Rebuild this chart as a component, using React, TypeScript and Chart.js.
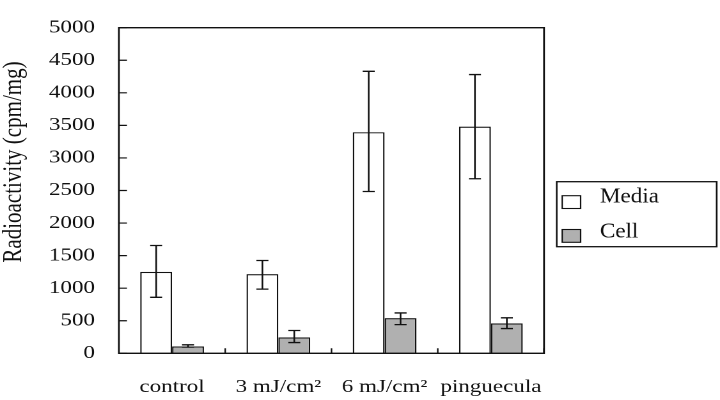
import React, { useEffect, useRef } from 'react';
import { Chart, registerables } from 'chart.js';

Chart.register(...registerables);

const categories = ['control', '3 mJ/cm²', '6 mJ/cm²', 'pinguecula'];
const seriesNames = ['Media', 'Cell'];
const mediaValues = [1250, 1215, 3395, 3480];
const mediaLow = [860, 985, 2485, 2680];
const mediaHigh = [1655, 1425, 4330, 4280];
const cellValues = [105, 245, 540, 460];
const cellLow = [95, 165, 440, 380];
const cellHigh = [130, 350, 620, 545];
const yMin = 0;
const yMax = 5000;
const yStep = 500;
const yTitle = 'Radioactivity (cpm/mg)';

const FONT = '"Liberation Serif", "Times New Roman", serif';
const INK = '#111';
const CELL_FILL = '#b0b0b0';
const CANVAS_W = 563;
const CANVAS_H = 400;
const STRETCH = 720 / CANVAS_W;

const decorPlugin = {
  id: 'decor',
  afterDatasetsDraw(chart: any) {
    const { ctx, chartArea: a, scales } = chart;
    const xs = scales.x;
    const ys = scales.y;
    ctx.save();
    ctx.strokeStyle = INK;
    ctx.lineWidth = 1.3;
    ctx.lineCap = 'butt';

    const drawErr = (meta: any, lows: number[], highs: number[]) => {
      meta.data.forEach((bar: any, i: number) => {
        const cx = bar.x;
        const yl = ys.getPixelForValue(lows[i]);
        const yh = ys.getPixelForValue(highs[i]);
        const hw = 4.7;
        ctx.beginPath();
        ctx.moveTo(cx, yl);
        ctx.lineTo(cx, yh);
        ctx.moveTo(cx - hw, yl);
        ctx.lineTo(cx + hw, yl);
        ctx.moveTo(cx - hw, yh);
        ctx.lineTo(cx + hw, yh);
        ctx.stroke();
      });
    };
    drawErr(chart.getDatasetMeta(0), mediaLow, mediaHigh);
    drawErr(chart.getDatasetMeta(1), cellLow, cellHigh);

    // frame
    ctx.lineWidth = 1.4;
    ctx.strokeRect(a.left, a.top, a.right - a.left, a.bottom - a.top);

    // inward y ticks
    ctx.lineWidth = 1.2;
    ctx.beginPath();
    ys.ticks.forEach((t: any) => {
      const py = ys.getPixelForValue(t.value);
      ctx.moveTo(a.left, py);
      ctx.lineTo(a.left + 6.3, py);
    });
    // upward x ticks at category boundaries
    for (let i = 0; i < categories.length; i++) {
      const px = xs.getPixelForValue(i + 0.5);
      ctx.moveTo(px, a.bottom);
      ctx.lineTo(px, a.bottom - 5);
    }
    ctx.stroke();

    // y title
    ctx.save();
    ctx.fillStyle = INK;
    ctx.translate(11, 162);
    ctx.rotate(-Math.PI / 2);
    ctx.textAlign = 'center';
    ctx.textBaseline = 'middle';
    ctx.font = `21px ${FONT}`;
    ctx.fillText(yTitle, 0, 0);
    ctx.restore();

    // legend
    const lx = 435.3;
    const ly = 181.7;
    const lw = 125.1;
    const lh = 65;
    ctx.fillStyle = '#fff';
    ctx.fillRect(lx, ly, lw, lh);
    ctx.lineWidth = 1.3;
    ctx.strokeRect(lx, ly, lw, lh);
    const fills = ['#ffffff', CELL_FILL];
    const swY = [195.7, 229.5];
    const txY = [202.3, 237.3];
    ctx.font = `21px ${FONT}`;
    ctx.textAlign = 'left';
    ctx.textBaseline = 'alphabetic';
    seriesNames.forEach((name, i) => {
      ctx.fillStyle = fills[i];
      ctx.fillRect(439.6, swY[i], 14.4, 12.8);
      ctx.lineWidth = 1.1;
      ctx.strokeRect(439.6, swY[i], 14.4, 12.8);
      ctx.fillStyle = INK;
      ctx.save();
      ctx.translate(469.1, txY[i]);
      ctx.scale(0.86, 1);
      ctx.fillText(name, 0, 0);
      ctx.restore();
    });
    ctx.restore();
  },
};

export default function App() {
  const ref = useRef<HTMLCanvasElement | null>(null);
  useEffect(() => {
    const canvas = ref.current;
    if (!canvas) return;
    const chart = new Chart(canvas, {
      type: 'bar',
      data: {
        labels: categories,
        datasets: [
          {
            label: seriesNames[0],
            data: mediaValues,
            backgroundColor: '#ffffff',
            borderColor: INK,
            borderWidth: 1.2,
            categoryPercentage: 0.6,
            barPercentage: 1.0,
          },
          {
            label: seriesNames[1],
            data: cellValues,
            backgroundColor: CELL_FILL,
            borderColor: INK,
            borderWidth: 1.2,
            categoryPercentage: 0.6,
            barPercentage: 1.0,
          },
        ],
      },
      options: {
        responsive: false,
        animation: false,
        devicePixelRatio: 2,
        layout: { padding: { top: 11, right: CANVAS_W - 425.4, left: 0, bottom: 0 } },
        plugins: {
          legend: { display: false },
          tooltip: { enabled: false },
          title: { display: false },
        },
        scales: {
          x: {
            offset: true,
            grid: { display: false, drawTicks: false },
            border: { display: false },
            ticks: {
              color: INK,
              padding: 23,
              maxRotation: 0,
              autoSkip: false,
              font: { family: FONT, size: 18 },
            },
            afterFit: (s: any) => {
              s.height = 46.7;
            },
          },
          y: {
            min: yMin,
            max: yMax,
            grid: { display: false, drawTicks: false },
            border: { display: false },
            ticks: {
              stepSize: yStep,
              color: INK,
              padding: 18.7,
              font: { family: FONT, size: 18, lineHeight: 1 },
              callback: (v: any) => String(v),
            },
            afterFit: (s: any) => {
              s.width = 93;
            },
          },
        },
      },
      plugins: [decorPlugin],
    });
    return () => chart.destroy();
  }, []);

  return (
    <div
      style={{
        position: 'fixed',
        left: 0,
        top: 0,
        width: 720,
        height: 400,
        overflow: 'hidden',
        background: '#fff',
      }}
    >
      <canvas
        ref={ref}
        width={CANVAS_W}
        height={CANVAS_H}
        style={{
          width: `${CANVAS_W}px`,
          height: `${CANVAS_H}px`,
          transform: `scaleX(${STRETCH})`,
          transformOrigin: '0 0',
          display: 'block',
        }}
      />
    </div>
  );
}
